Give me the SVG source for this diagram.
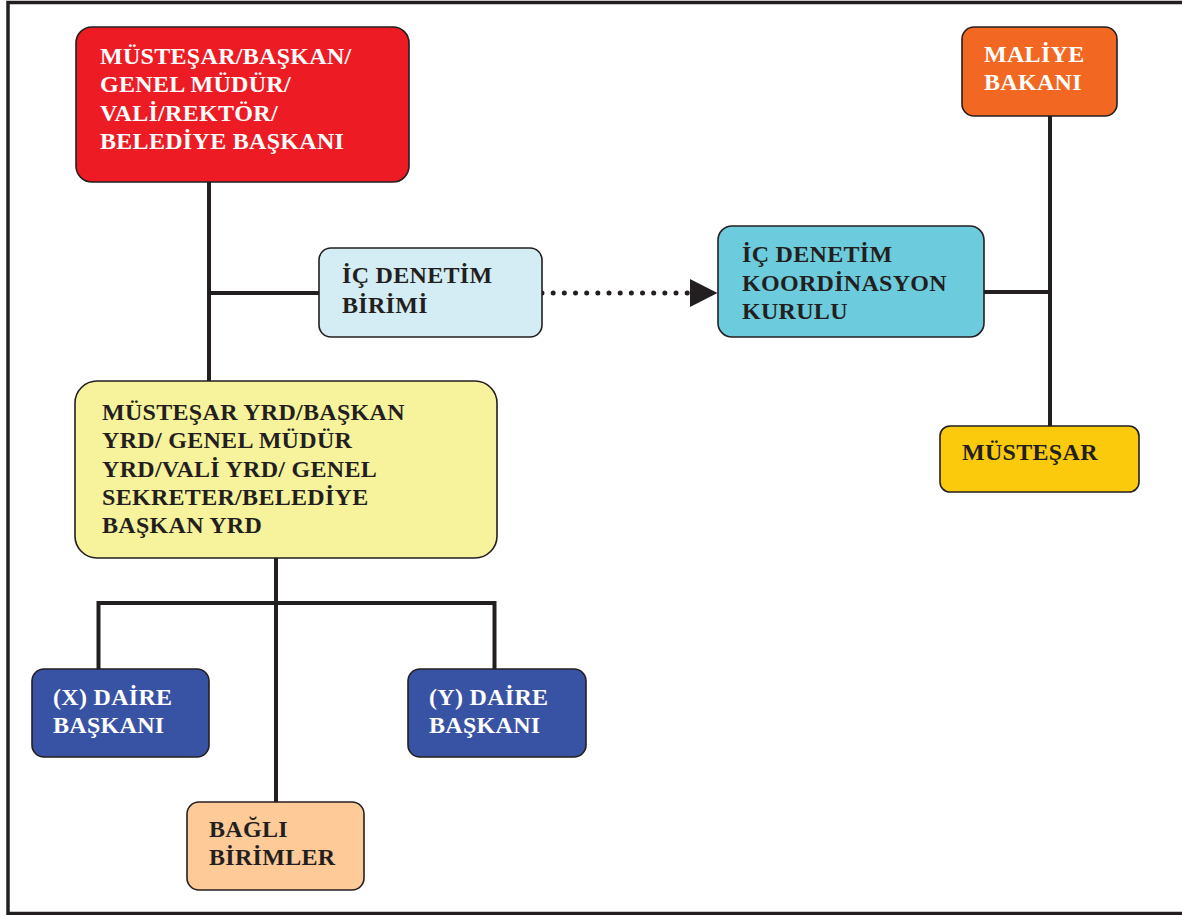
<svg xmlns="http://www.w3.org/2000/svg" width="1182" height="915" viewBox="0 0 1182 915">
<style>
.box{stroke:#231f20;stroke-width:1.6}
.t{font-family:"Liberation Serif","Times New Roman",serif;font-weight:bold;font-size:24px;letter-spacing:0.3px}
.w{fill:#ffffff}
.d{fill:#231f20}
.ln{fill:none;stroke:#231f20;stroke-width:4}
</style>
<rect x="0" y="0" width="1182" height="915" fill="#ffffff"/>
<rect x="8" y="2.5" width="1190" height="911" fill="none" stroke="#231f20" stroke-width="3.5"/>
<g id="connectors">
<path class="ln" d="M209 182 V381"/>
<path class="ln" d="M209 293 H319"/>
<path d="M542 293 H688" fill="none" stroke="#231f20" stroke-width="5" stroke-linecap="round" stroke-dasharray="0 11.17"/>
<polygon points="690,279 717.5,293 690,307" fill="#231f20"/>
<path class="ln" d="M984 292 H1050"/>
<path class="ln" d="M1050 116 V426"/>
<path class="ln" d="M276 558 V802"/>
<path class="ln" d="M98.5 669 V603 H494.5 V669"/>
</g>
<g id="n-mustesar-baskan">
<rect class="box" x="76" y="27" width="333" height="155" rx="16" fill="#ed1c24"/>
<text class="t w" x="100" y="63.5">MÜSTEŞAR/BAŞKAN/</text>
<text class="t w" x="100" y="92">GENEL MÜDÜR/</text>
<text class="t w" x="100" y="120.5">VALİ/REKTÖR/</text>
<text class="t w" x="100" y="149">BELEDİYE BAŞKANI</text>
</g>
<g id="n-ic-denetim-birimi">
<rect class="box" x="319" y="248" width="223" height="89" rx="12" fill="#d4ecf3"/>
<text class="t d" x="342" y="283">İÇ DENETİM</text>
<text class="t d" x="342" y="312.5">BİRİMİ</text>
</g>
<g id="n-ic-denetim-koordinasyon">
<rect class="box" x="718" y="226" width="266" height="111" rx="14" fill="#6ccbdc"/>
<text class="t d" x="742" y="262">İÇ DENETİM</text>
<text class="t d" x="742" y="291">KOORDİNASYON</text>
<text class="t d" x="742" y="318.5">KURULU</text>
</g>
<g id="n-maliye-bakani">
<rect class="box" x="962" y="27" width="155" height="89" rx="12" fill="#f26722"/>
<text class="t w" x="984" y="62">MALİYE</text>
<text class="t w" x="984" y="90">BAKANI</text>
</g>
<g id="n-mustesar">
<rect class="box" x="940" y="426" width="199" height="66" rx="10" fill="#fbca0c"/>
<text class="t d" x="962" y="460">MÜSTEŞAR</text>
</g>
<g id="n-yardimci">
<rect class="box" x="75" y="381" width="422" height="177" rx="22" fill="#f7f29c"/>
<text class="t d" x="102" y="420">MÜSTEŞAR YRD/BAŞKAN</text>
<text class="t d" x="102" y="448.3">YRD/ GENEL MÜDÜR</text>
<text class="t d" x="102" y="476.6">YRD/VALİ YRD/ GENEL</text>
<text class="t d" x="102" y="505">SEKRETER/BELEDİYE</text>
<text class="t d" x="102" y="533.3">BAŞKAN YRD</text>
</g>
<g id="n-x-daire">
<rect class="box" x="32" y="669" width="177" height="88" rx="12" fill="#3953a4"/>
<text class="t w" x="53" y="705">(X) DAİRE</text>
<text class="t w" x="53" y="733">BAŞKANI</text>
</g>
<g id="n-y-daire">
<rect class="box" x="408" y="669" width="178" height="88" rx="12" fill="#3953a4"/>
<text class="t w" x="429" y="705">(Y) DAİRE</text>
<text class="t w" x="429" y="733">BAŞKANI</text>
</g>
<g id="n-bagli-birimler">
<rect class="box" x="187" y="802" width="177" height="88" rx="12" fill="#fdca98"/>
<text class="t d" x="209" y="837">BAĞLI</text>
<text class="t d" x="209" y="865">BİRİMLER</text>
</g>
</svg>
